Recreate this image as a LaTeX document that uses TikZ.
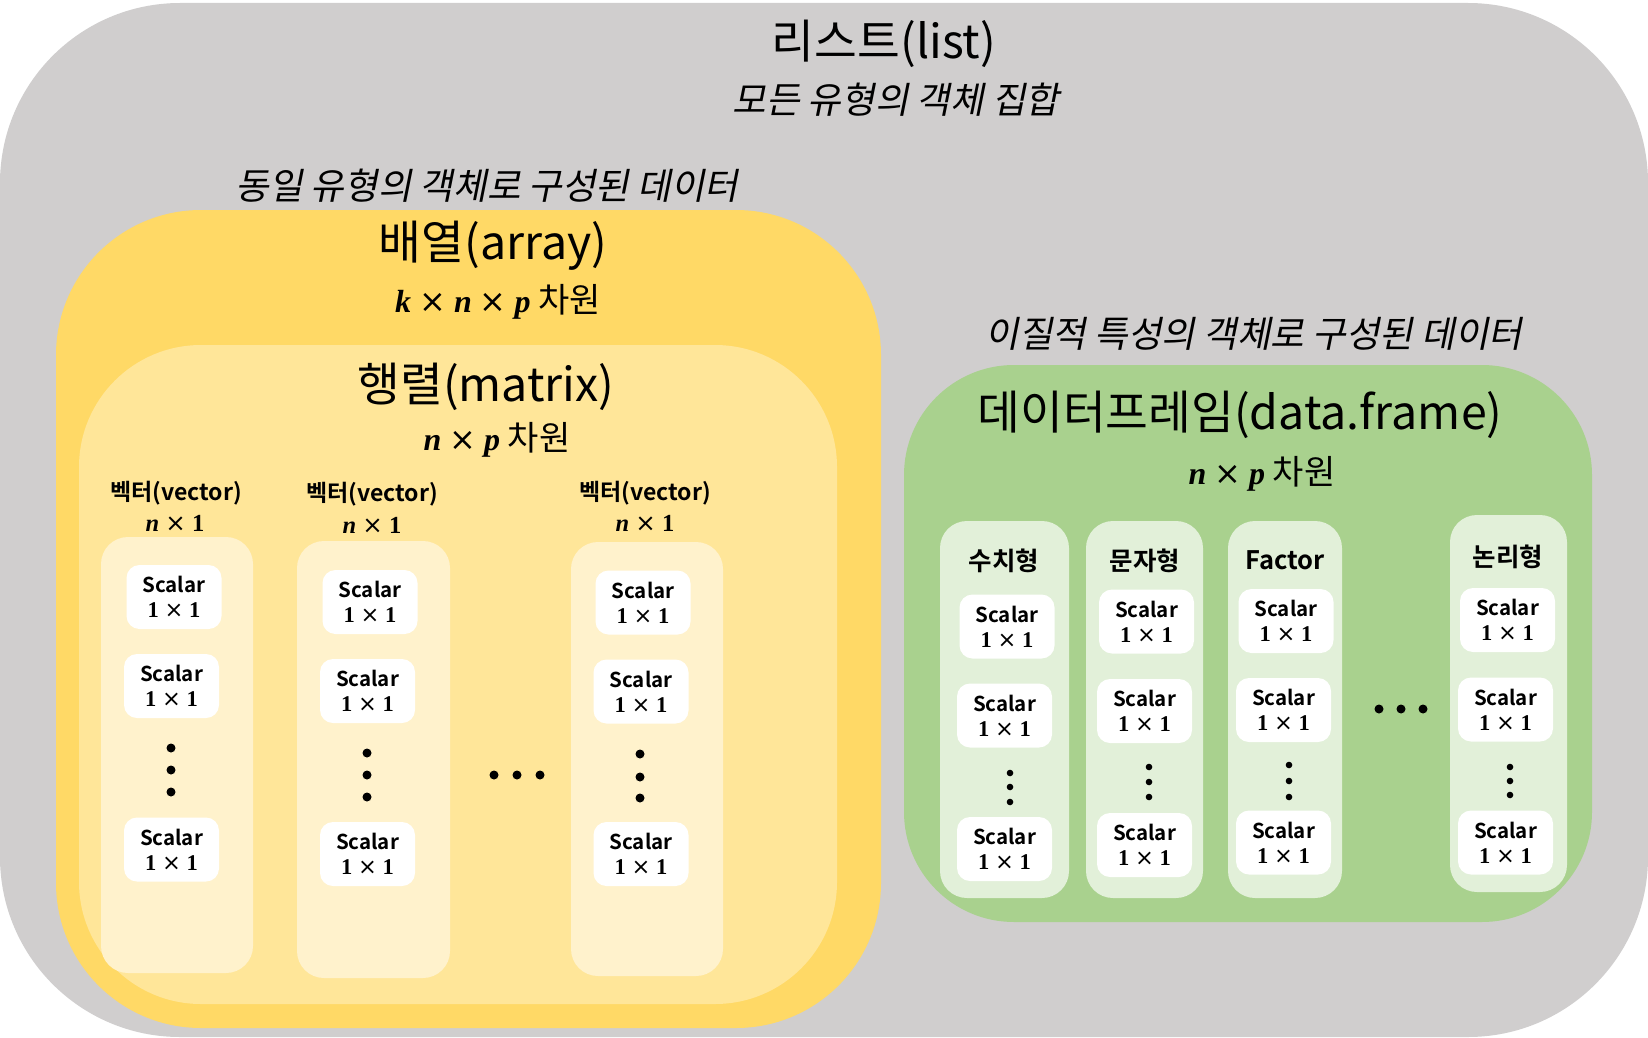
\documentclass[tikz,border=0pt]{standalone}
\usepackage{fontspec}
\setmainfont{Noto Sans CJK KR}[BoldFont={Noto Sans CJK KR Bold}]
\newfontfamily\krit{Noto Sans CJK KR}[FakeSlant=0.2]
\newfontfamily\mserif{Liberation Serif}
\newfontfamily\timesfont{DejaVu Sans}
\definecolor{cgray}{HTML}{D0CECE}
\definecolor{cyel}{HTML}{FFD966}
\definecolor{cmat}{HTML}{FFE699}
\definecolor{cvec}{HTML}{FFF2CC}
\definecolor{cgrn}{HTML}{A9D18E}
\definecolor{ccol}{HTML}{E2F0D9}
\newcommand\tms{\hspace{0.25em}{\timesfont\mdseries\upshape ×}\hspace{0.25em}}
\newcommand\onebyone{{\mserif\bfseries\fontsize{22.5}{25}\selectfont 1\tms 1}}
\newcommand\nbyone{{\mserif\bfseries\fontsize{24.5}{27}\selectfont\textit{n}\tms 1}}
\newcommand\dimm[1]{{\mserif\bfseries\fontsize{32}{34}\selectfont #1}}
\begin{document}
\begin{tikzpicture}[x=1pt,y=-1pt,
  sc/.style={fill=white, rounded corners=13pt, minimum width=95pt, minimum height=64pt,
    inner sep=0pt, align=center, font=\bfseries\fontsize{20.5}{25}\selectfont},
  title/.style={font=\fontsize{46.5}{52}\selectfont, inner sep=0pt},
  ital/.style={font=\krit\fontsize{36.5}{40}\selectfont, inner sep=0pt},
  dimtxt/.style={font=\fontsize{34}{38}\selectfont, inner sep=0pt},
  vlab/.style={font=\bfseries\fontsize{23}{27}\selectfont, inner sep=0pt},
  vdim/.style={inner sep=0pt},
  head/.style={font=\bfseries\fontsize{25.5}{29}\selectfont, inner sep=0pt},
  bigdot/.style={fill=black},
]
\useasboundingbox (0,0) rectangle (1648,1038);
% containers
\fill[cgray, rounded corners=180pt] (0,3) rectangle (1648,1037);
\fill[cyel, rounded corners=145pt] (56,210) rectangle (881,1028);
\fill[cmat, rounded corners=122pt] (79,345) rectangle (837,1004);
\fill[cvec, rounded corners=27pt] (101,537) rectangle (253,973);
\fill[cvec, rounded corners=27pt] (297,541) rectangle (450,978);
\fill[cvec, rounded corners=27pt] (571,542) rectangle (723,976);
\fill[cgrn, rounded corners=110pt] (904,365) rectangle (1592,922);
\fill[ccol, rounded corners=27pt] (940,521) rectangle (1069,898);
\fill[ccol, rounded corners=27pt] (1086,521) rectangle (1203,898);
\fill[ccol, rounded corners=27pt] (1228,521) rectangle (1342,898);
\fill[ccol, rounded corners=27pt] (1450,515) rectangle (1567,892);

% titles
\node[title] (tlist) at (884,44) {리스트(list)};
\node[ital] (slist) at (896,100) {모든 유형의 객체 집합};
\node[ital] (sarr) at (487,186) {동일 유형의 객체로 구성된 데이터};
\node[title] (tarr) at (493,246) {배열(array)};
\node[dimtxt] (darr) at (498,302) {\dimm{\textit{k}\tms\textit{n}\tms\textit{p}} 차원};
\node[title] (tmat) at (486,387) {행렬(matrix)};
\node[dimtxt] (dmat) at (497,440) {\dimm{\textit{n}\tms\textit{p}} 차원};
\node[ital] (sdf) at (1254,334) {이질적 특성의 객체로 구성된 데이터};
\node[title] (tdf) at (1240,415) {데이터프레임(data.frame)};
\node[dimtxt] (ddf) at (1262,474) {\dimm{\textit{n}\tms\textit{p}} 차원};

% vector labels
\node[vlab] (lv1) at (176,493) {벡터(vector)};
\node[vdim] (dv1) at (175,523) {\nbyone};
\node[vlab] (lv2) at (372,494) {벡터(vector)};
\node[vdim] (dv2) at (372,525) {\nbyone};
\node[vlab] (lv3) at (645,493) {벡터(vector)};
\node[vdim] (dv3) at (645,523) {\nbyone};

% column headers
\node[head] (h1) at (1004,561) {수치형};
\node[head] (h2) at (1145,561) {문자형};
\node[head] (h3) at (1285,560) {Factor};
\node[head] (h4) at (1508,557) {논리형};

% scalars: vectors
\node[sc] (v1a) at (174,597) {Scalar\\ \onebyone};
\node[sc] (v1b) at (171.5,686) {Scalar\\ \onebyone};
\node[sc] (v1c) at (171.5,849.5) {Scalar\\ \onebyone};
\node[sc] (v2a) at (370,602) {Scalar\\ \onebyone};
\node[sc] (v2b) at (367.5,691) {Scalar\\ \onebyone};
\node[sc] (v2c) at (367.5,854) {Scalar\\ \onebyone};
\node[sc] (v3a) at (643,602.5) {Scalar\\ \onebyone};
\node[sc] (v3b) at (641,691.5) {Scalar\\ \onebyone};
\node[sc] (v3c) at (641,854) {Scalar\\ \onebyone};
% scalars: columns
\node[sc] (c1a) at (1007,626.5) {Scalar\\ \onebyone};
\node[sc] (c1b) at (1004.5,715.5) {Scalar\\ \onebyone};
\node[sc] (c1c) at (1004.5,849) {Scalar\\ \onebyone};
\node[sc] (c2a) at (1146.5,621.5) {Scalar\\ \onebyone};
\node[sc] (c2b) at (1144.5,711) {Scalar\\ \onebyone};
\node[sc] (c2c) at (1144.5,845) {Scalar\\ \onebyone};
\node[sc] (c3a) at (1286,621) {Scalar\\ \onebyone};
\node[sc] (c3b) at (1283.5,710) {Scalar\\ \onebyone};
\node[sc] (c3c) at (1283.5,842.5) {Scalar\\ \onebyone};
\node[sc] (c4a) at (1507.5,620) {Scalar\\ \onebyone};
\node[sc] (c4b) at (1505.5,709.5) {Scalar\\ \onebyone};
\node[sc] (c4c) at (1505.5,842.5) {Scalar\\ \onebyone};

% dots
\foreach \x/\a/\b/\c in {171/748/770/792, 367/753/775/797, 640/754/777/798}
  {\fill[bigdot] (\x,\a) circle (4.5pt) (\x,\b) circle (4.5pt) (\x,\c) circle (4.5pt);}
\foreach \x in {494,517,540} {\fill[bigdot] (\x,775) circle (4.5pt);}
\foreach \x/\a/\b/\c in {1010/773/787/802, 1149/767/782/797, 1289/765/781/797, 1510/767/781/795}
  {\fill[bigdot] (\x,\a) circle (3.3pt) (\x,\b) circle (3.3pt) (\x,\c) circle (3.3pt);}
\foreach \x in {1379,1401,1423} {\fill[bigdot] (\x,709) circle (4.5pt);}
\end{tikzpicture}
\end{document}
